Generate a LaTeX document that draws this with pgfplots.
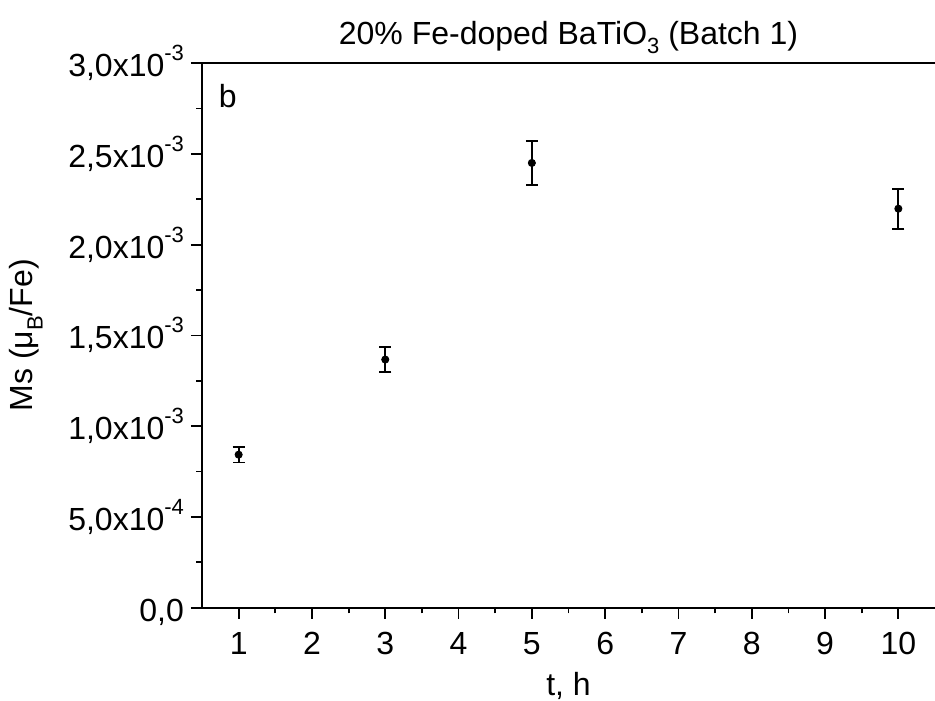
\documentclass[border=0pt]{standalone}
\usepackage{fontspec}
\setmainfont{Liberation Sans}
\usepackage{pgfplots}
\pgfplotsset{compat=1.18}
\newcommand{\mysup}[1]{\raisebox{0.5em}{\fontsize{11}{12}\selectfont #1}}
\newcommand{\mysub}[1]{\raisebox{-0.3em}{\fontsize{11}{12}\selectfont #1}}
\begin{document}
\begin{tikzpicture}
\begin{axis}[
  at={(0,0)}, anchor=south west,
  scale only axis, width=366.5pt, height=272.3pt,
  axis lines=left,
  axis line style={line width=1pt, -},
  xmin=0.5, xmax=10.5, ymin=0, ymax=0.003,
  clip=false,
  scaled y ticks=false,
  xtick={1,2,...,10},
  xticklabels={1,2,3,4,5,6,7,8,9,10},
  minor x tick num=1,
  ytick={0,0.0005,0.001,0.0015,0.002,0.0025,0.003},
  yticklabels={{0,0},{5,0x10\mysup{-4}},{1,0x10\mysup{-3}},{1,5x10\mysup{-3}},{2,0x10\mysup{-3}},{2,5x10\mysup{-3}},{3,0x10\mysup{-3}}},
  minor y tick num=1,
  tick align=outside,
  major tick length=5.5pt,
  minor tick length=2.8pt,
  every tick/.style={black, line width=0.9pt},
  tick label style={font=\fontsize{16}{18}\selectfont},
  xticklabel style={text height=11.5pt, text depth=0pt, yshift=-3pt},
  yticklabel style={text height=11.5pt, text depth=0pt, yshift=-1pt},
  label style={font=\fontsize{16}{18}\selectfont},
  xlabel={t, h},
  ylabel={Ms (μ\mysub{B}/Fe)},
  title={20\% Fe-doped BaTiO\mysub{3} (Batch 1)},
  title style={font=\fontsize{16}{18}\selectfont, yshift=-5pt},
  xlabel style={yshift=-2pt},
  ylabel style={yshift=6pt},
]
\addplot[black, only marks, mark=*, mark size=1.8pt,
  error bars/.cd, y dir=both, y explicit,
  error bar style={line width=0.9pt},
  error mark options={rotate=90, mark size=3pt, line width=0.9pt}]
  table[x=x, y=y, y error=e] {
  x y e
  1 0.000843 0.000043
  3 0.001367 0.000068
  5 0.002450 0.000123
  10 0.002198 0.000110
  };
\draw[line width=1pt] (rel axis cs:0,1) -- (rel axis cs:1,1);
\node[font=\fontsize{16}{18}\selectfont] at (rel axis cs:0.035,0.94) {b};
\end{axis}
\pgfresetboundingbox
\useasboundingbox (-101pt,-46.15pt) rectangle (366.5pt,303.85pt);
\end{tikzpicture}
\end{document}
